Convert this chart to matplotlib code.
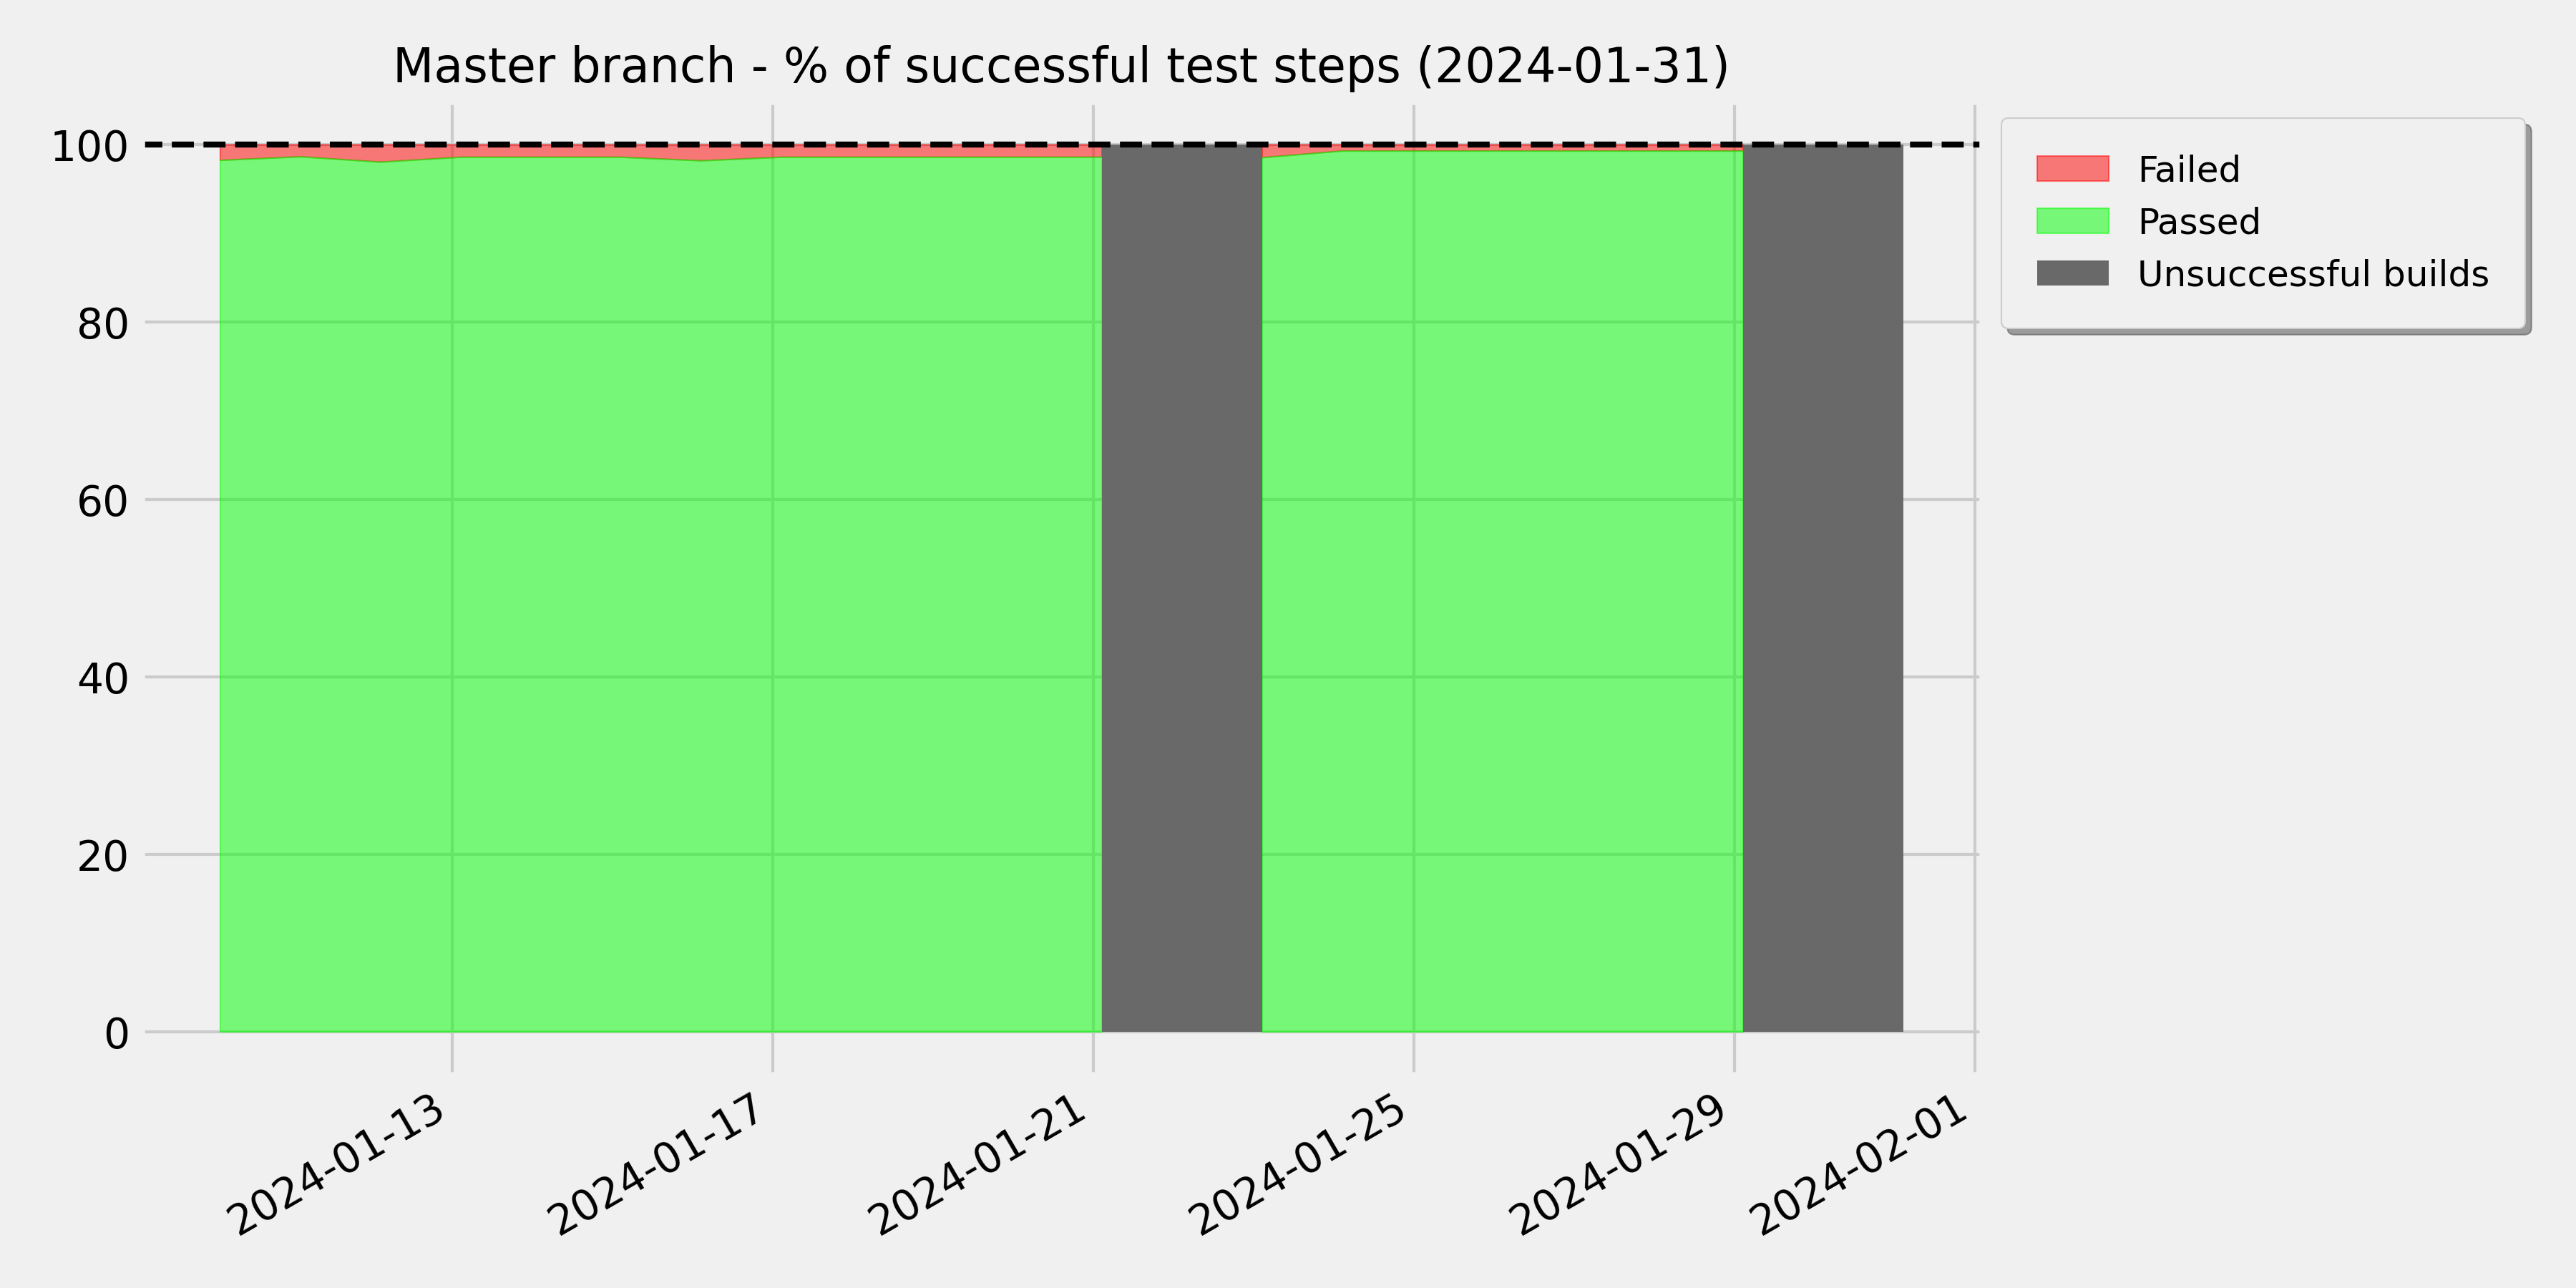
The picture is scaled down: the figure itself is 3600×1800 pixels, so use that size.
import numpy as np
import matplotlib
matplotlib.use("Agg")
import matplotlib.pyplot as plt
import matplotlib.dates as mdates
from datetime import datetime, timedelta

# build dates (nightly, ~02:30)
dates = [datetime(2024, 1, d, 2, 30) for d in range(10, 32)]

# % of successful test steps per build (nan = no test results)
passed = [98.25, 98.65, 98.05, 98.6, 98.6, 98.6, 98.2, 98.6, 98.6, 98.6, 98.6,
          98.6, np.nan, 98.55, 99.3, 99.3, 99.3, 99.3, 99.3, 99.3, np.nan, np.nan]

# builds that did not finish
unsuccessful = [datetime(2024, 1, 21, 2, 30), datetime(2024, 1, 22, 2, 30),
                datetime(2024, 1, 29, 2, 30), datetime(2024, 1, 30, 2, 30)]

report_date = "2024-01-31"

plt.style.use('fivethirtyeight')

passed = np.array(passed)

fig = plt.figure(figsize=(12, 6), dpi=300)
ax = fig.add_axes([0.0544, 0.1644, 0.7156, 0.7576])

ax.fill_between(dates, passed, 100, color='red', alpha=0.5, label='Failed')
ax.fill_between(dates, 0, passed, color='lime', alpha=0.5, label='Passed')
ax.bar(unsuccessful, [100] * len(unsuccessful), width=1, align='edge',
       color='dimgray', label='Unsuccessful builds')
ax.axhline(100, color='black', linestyle='--', linewidth=2)

ax.set_xlim(dates[0] - timedelta(days=1), dates[-1] + timedelta(days=1))
ax.set_ylim(-5, 105)
ax.xaxis.set_major_locator(mdates.DayLocator(bymonthday=range(1, 32, 4)))
ax.xaxis.set_major_formatter(mdates.DateFormatter('%Y-%m-%d'))
plt.setp(ax.get_xticklabels(), rotation=30, ha='right')

ax.set_title(f"Master branch - % of successful test steps ({report_date})", fontsize=16)
ax.legend(loc='upper left', bbox_to_anchor=(1, 1), fontsize=12, shadow=True,
          borderpad=1)

fig.savefig("out.png", dpi=300)
